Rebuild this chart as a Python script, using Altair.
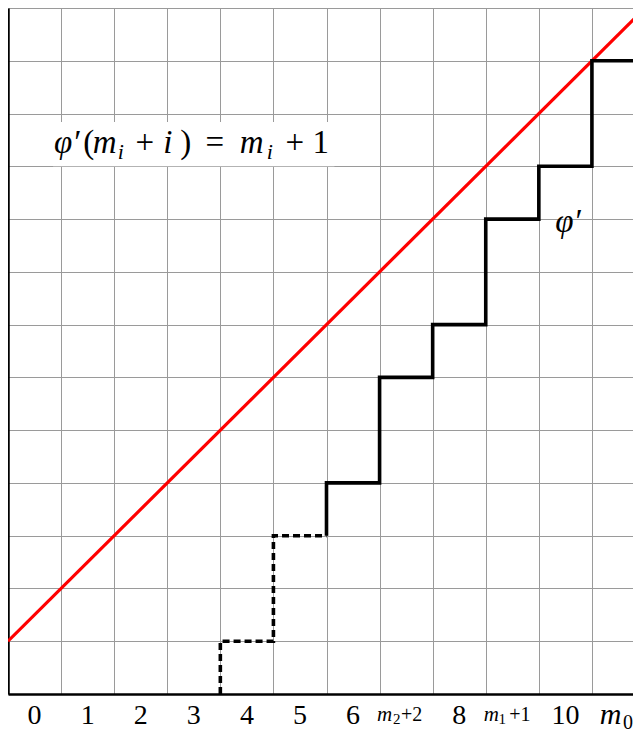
import altair as alt
import pandas as pd

# ---- data ----
red_x = [0, 12]
red_y = [1, 13]

dash_x = [4, 4, 5, 5, 6]
dash_y = [0, 1, 1, 3, 3]

solid_x = [6, 6, 7, 7, 8, 8, 9, 9, 10, 10, 11, 11, 12]
solid_y = [3, 4, 4, 6, 6, 7, 7, 9, 9, 10, 10, 12, 12]

tick_pos = [0.5, 1.5, 2.5, 3.5, 4.5, 5.5, 6.5, 8.5, 10.5]
tick_txt = ["0", "1", "2", "3", "4", "5", "6", "8", "10"]

# symbolic tick labels m_2+2, m_1+1, m_0 split into base / subscript / rest
mtick_pos = [7.5, 9.5, 11.5]
mtick_base = ["m", "m", "m"]
mtick_sub = ["2", "1", "0"]
mtick_rest = ["+2", "+1", ""]

# annotation  φ′(m_i + i) = m_i + 1, split into glyph groups
ann_parts = ["φ′", "(", "m", "i", "+", "i", ")", "=", "m", "i", "+", "1"]
ann_x = 3.5
ann_y = 10.25
box_x = [0.85]
box_x2 = [6.15]
box_y = [10.0]
box_y2 = [10.84]

phi_text = ["φ′"]
phi_x = [10.55]
phi_y = [8.95]

# ---- style ----
FONT = "Liberation Serif"
# (dx, dy, size, italic) per annotation glyph group
ann_style = [(-127, 0, 33, True), (-105, 0, 33, False),
             (-89, 0, 33, True), (-73, 6, 22, True), (-49, 0, 33, False),
             (-26, 0, 33, True), (-8, 0, 33, False), (21, 0, 33, False),
             (58, 0, 33, True), (76, 6, 22, True), (101, 0, 33, False),
             (127, 0, 33, False)]
# per symbolic label: (base dx, base dy, base size), (sub dx, sub dy, sub size), (rest dx, rest dy, rest size)
mtick_style = [((-21.5, 27, 21), (-9.5, 30, 15), (5.5, 27, 20)),
               ((-21, 27, 21), (-10, 30, 15), (7.5, 27, 20)),
               ((-8, 30, 30), (9.5, 35, 20), (0, 0, 1))]

xs = alt.Scale(domain=[0, 12], nice=False, zero=False)
ys = alt.Scale(domain=[0, 13], nice=False, zero=False)

x_axis = alt.Axis(values=list(range(13)), labels=False, ticks=False, title=None,
                  grid=True, gridColor="#9a9a9a", gridWidth=1,
                  domainColor="black", domainWidth=2.5)
y_axis = alt.Axis(values=list(range(14)), labels=False, ticks=False, title=None,
                  grid=True, gridColor="#9a9a9a", gridWidth=1,
                  domainColor="black", domainWidth=2.5)

red_df = pd.DataFrame({"x": red_x, "y": red_y, "o": range(len(red_x))})
dash_df = pd.DataFrame({"x": dash_x, "y": dash_y, "o": range(len(dash_x))})
solid_df = pd.DataFrame({"x": solid_x, "y": solid_y, "o": range(len(solid_x))})


def piece(text, x, y, dx, dy, size, italic):
    return alt.Chart(pd.DataFrame({"t": [text], "x": [x], "y": [y]})).mark_text(
        font=FONT, fontSize=size, fontStyle="italic" if italic else "normal",
        color="black", baseline="alphabetic", align="center", dx=dx, dy=dy
    ).encode(x=alt.X("x:Q", scale=xs), y=alt.Y("y:Q", scale=ys), text="t:N")


base_grid = alt.Chart(red_df).mark_line(opacity=0).encode(
    x=alt.X("x:Q", scale=xs, axis=x_axis),
    y=alt.Y("y:Q", scale=ys, axis=y_axis),
)

box = alt.Chart(pd.DataFrame({"x": box_x, "x2": box_x2, "y": box_y, "y2": box_y2})).mark_rect(
    color="white").encode(
    x=alt.X("x:Q", scale=xs), x2="x2:Q", y=alt.Y("y:Q", scale=ys), y2="y2:Q")

ann_layers = [piece(t, ann_x, ann_y, s[0], s[1], s[2], s[3])
              for t, s in zip(ann_parts, ann_style)]

red = alt.Chart(red_df).mark_line(color="#ff0000", strokeWidth=3.2, clip=True).encode(
    x=alt.X("x:Q", scale=xs), y=alt.Y("y:Q", scale=ys), order="o:Q")

dash = alt.Chart(dash_df).mark_line(color="black", strokeWidth=3.6, strokeDash=[7, 4],
                                    strokeCap="butt", strokeJoin="miter", clip=True).encode(
    x=alt.X("x:Q", scale=xs), y=alt.Y("y:Q", scale=ys), order="o:Q")

solid = alt.Chart(solid_df).mark_line(color="black", strokeWidth=3.6, strokeJoin="miter",
                                      clip=True).encode(
    x=alt.X("x:Q", scale=xs), y=alt.Y("y:Q", scale=ys), order="o:Q")

phi = alt.Chart(pd.DataFrame({"t": phi_text, "x": phi_x, "y": phi_y})).mark_text(
    font=FONT, fontSize=33, fontStyle="italic", color="black", baseline="middle",
    align="center").encode(
    x=alt.X("x:Q", scale=xs), y=alt.Y("y:Q", scale=ys), text="t:N")

ticks = alt.Chart(pd.DataFrame({"t": tick_txt, "x": tick_pos, "y": [0] * len(tick_pos)})).mark_text(
    font=FONT, fontSize=28, color="black", baseline="alphabetic", align="center", dy=30).encode(
    x=alt.X("x:Q", scale=xs), y=alt.Y("y:Q", scale=ys), text="t:N")

mtick_layers = []
for pos, b, sb, r, st in zip(mtick_pos, mtick_base, mtick_sub, mtick_rest, mtick_style):
    mtick_layers.append(piece(b, pos, 0, st[0][0], st[0][1], st[0][2], True))
    mtick_layers.append(piece(sb, pos, 0, st[1][0], st[1][1], st[1][2], False))
    if r:
        mtick_layers.append(piece(r, pos, 0, st[2][0], st[2][1], st[2][2], False))

chart = alt.layer(base_grid, box, *ann_layers, red, dash, solid, phi, ticks,
                  *mtick_layers).properties(
    width=637, height=686,
    autosize=alt.AutoSizeParams(type="none"),
    padding={"left": 0, "top": 0, "right": -12, "bottom": 40},
).configure_view(stroke=None)

chart.save("out.html", embed_options={"renderer": "svg", "actions": False})
